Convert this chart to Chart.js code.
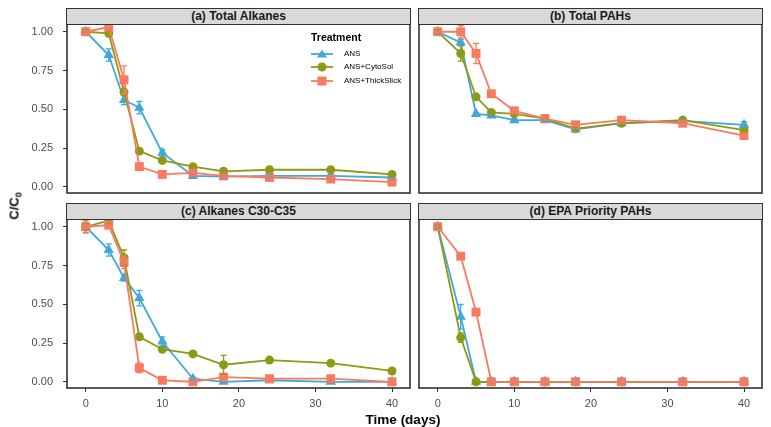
<!DOCTYPE html>
<html>
<head>
<meta charset="utf-8">
<script src="https://cdn.jsdelivr.net/npm/chart.js@4.4.1/dist/chart.umd.min.js"></script>
<style>
  body { margin: 0; background: #fff; }
  #wrap { position: relative; width: 771px; height: 427px; overflow: hidden; font-family: "Liberation Sans", Arial, sans-serif; }
  canvas { position: absolute; left: 0; top: 0; }
  .strip { position: absolute; height: 17px; background: #d9d9d9; border: 1.5px solid #333; box-sizing: border-box;
           font-weight: bold; font-size: 12px; line-height: 14px; text-align: center; color: #1a1a1a; }
  .ytitle { position: absolute; left: 15px; top: 206px; transform: translate(-50%, -50%) rotate(-90deg);
            font-weight: bold; font-size: 13px; color: #000; white-space: nowrap; }
  .ytitle sub { font-size: 9px; vertical-align: -3px; }
  .xtitle { position: absolute; left: 403px; top: 419px; transform: translate(-50%, -50%);
            font-weight: bold; font-size: 13.5px; color: #000; white-space: nowrap; }
  .legtitle { position: absolute; left: 311px; top: 31px; font-weight: bold; font-size: 10.5px; color: #000; }
  .legrow { position: absolute; left: 310px; height: 12px; font-size: 8px; color: #000; white-space: nowrap; }
  .legrow svg { position: absolute; left: 0; top: 0; }
  .legrow span { position: absolute; left: 34px; top: 1px; }
</style>
</head>
<body>
<div id="wrap">
  <canvas id="pa" width="771" height="427"></canvas>
  <canvas id="pb" width="771" height="427"></canvas>
  <canvas id="pc" width="771" height="427"></canvas>
  <canvas id="pd" width="771" height="427"></canvas>
  <div class="strip" style="left:66px;top:8px;width:345px;">(a) Total Alkanes</div>
  <div class="strip" style="left:418px;top:8px;width:345px;">(b) Total PAHs</div>
  <div class="strip" style="left:66px;top:203px;width:345px;">(c) Alkanes C30-C35</div>
  <div class="strip" style="left:418px;top:203px;width:345px;">(d) EPA Priority PAHs</div>
  <div class="ytitle">C/C<sub>0</sub></div>
  <div class="xtitle">Time (days)</div>
  <div class="legtitle">Treatment</div>
  <div id="legend"></div>
</div>
<script>
// sampling days
const days = [0, 3, 5, 7, 10, 14, 18, 24, 32, 40];
const treatments = ["ANS", "ANS+CytoSol", "ANS+ThickSlick"];
const colors = ["#41a9da", "#8c9a14", "#f97b5f"];

// (a) Total Alkanes
const alkAns      = [1.00, 0.85, 0.56, 0.51, 0.22, 0.07, 0.065, 0.07, 0.07, 0.06];
const alkCyto     = [1.00, 0.99, 0.61, 0.23, 0.17, 0.13, 0.10, 0.11, 0.11, 0.08];
const alkThick    = [1.00, 1.03, 0.69, 0.13, 0.08, 0.09, 0.07, 0.06, 0.05, 0.03];
const alkAnsErr   = [0.01, 0.04, 0.03, 0.04, 0.02, 0.01, 0.01, 0.01, 0.01, 0.01];
const alkCytoErr  = [0.01, 0.02, 0.02, 0.01, 0.01, 0.01, 0.01, 0.01, 0.01, 0.01];
const alkThickErr = [0.01, 0.02, 0.09, 0.02, 0.01, 0.01, 0.01, 0.01, 0.01, 0.01];

// (b) Total PAHs
const pahAns      = [1.00, 0.93, 0.47, 0.46, 0.43, 0.43, 0.37, 0.41, 0.425, 0.40];
const pahCyto     = [1.00, 0.86, 0.58, 0.48, 0.47, 0.44, 0.375, 0.41, 0.43, 0.365];
const pahThick    = [1.00, 1.00, 0.86, 0.60, 0.49, 0.44, 0.40, 0.43, 0.41, 0.33];
const pahAnsErr   = [0.02, 0.02, 0.01, 0.01, 0.01, 0.01, 0.01, 0.01, 0.01, 0.02];
const pahCytoErr  = [0.01, 0.05, 0.01, 0.01, 0.01, 0.01, 0.01, 0.01, 0.01, 0.01];
const pahThickErr = [0.02, 0.04, 0.065, 0.01, 0.01, 0.01, 0.01, 0.01, 0.01, 0.01];

// (c) Alkanes C30-C35
const c30Ans      = [1.00, 0.85, 0.67, 0.54, 0.26, 0.02, 0.00, 0.01, 0.00, 0.00];
const c30Cyto     = [1.00, 1.04, 0.80, 0.29, 0.21, 0.18, 0.11, 0.14, 0.12, 0.07];
const c30Thick    = [1.00, 1.01, 0.77, 0.09, 0.01, 0.00, 0.03, 0.02, 0.02, 0.00];
const c30AnsErr   = [0.04, 0.04, 0.02, 0.05, 0.03, 0.01, 0.00, 0.00, 0.00, 0.01];
const c30CytoErr  = [0.02, 0.02, 0.05, 0.02, 0.01, 0.01, 0.06, 0.01, 0.01, 0.01];
const c30ThickErr = [0.04, 0.02, 0.04, 0.03, 0.01, 0.00, 0.01, 0.01, 0.01, 0.01];

// (d) EPA Priority PAHs
const epaAns      = [1.00, 0.42, 0.00, 0.00, 0.00, 0.00, 0.00, 0.00, 0.00, 0.00];
const epaCyto     = [1.00, 0.285, 0.00, 0.00, 0.00, 0.00, 0.00, 0.00, 0.00, 0.00];
const epaThick    = [1.00, 0.81, 0.45, 0.00, 0.00, 0.00, 0.00, 0.00, 0.00, 0.00];
const epaAnsErr   = [0.01, 0.08, 0.00, 0.01, 0.01, 0.01, 0.01, 0.01, 0.01, 0.01];
const epaCytoErr  = [0.01, 0.03, 0.01, 0.00, 0.00, 0.00, 0.00, 0.00, 0.00, 0.00];
const epaThickErr = [0.02, 0.02, 0.02, 0.01, 0.01, 0.01, 0.01, 0.01, 0.01, 0.01];

const xTicks = [0, 10, 20, 30, 40];
const yTicks = [0, 0.25, 0.5, 0.75, 1];

const pointStyles = ["triangle", "circle", "rect"];
const pointRadii = [6, 4.5, 6.3];

const errorBars = {
  id: "errorBars",
  afterDatasetsDraw(chart) {
    const ctx = chart.ctx, xs = chart.scales.x, ys = chart.scales.y;
    chart.data.datasets.forEach((ds) => {
      ctx.save();
      ctx.strokeStyle = ds.borderColor;
      ctx.lineWidth = 1.3;
      ds.data.forEach((p, i) => {
        const e = ds.err[i];
        if (!e) return;
        const x = xs.getPixelForValue(p.x);
        const y1 = ys.getPixelForValue(p.y - e), y2 = ys.getPixelForValue(p.y + e);
        ctx.beginPath();
        ctx.moveTo(x, y1); ctx.lineTo(x, y2);
        ctx.moveTo(x - 3, y1); ctx.lineTo(x + 3, y1);
        ctx.moveTo(x - 3, y2); ctx.lineTo(x + 3, y2);
        ctx.stroke();
      });
      ctx.restore();
    });
  },
};

const panelBorder = {
  id: "panelBorder",
  afterDraw(chart) {
    const { ctx, chartArea: a } = chart;
    ctx.save();
    ctx.strokeStyle = "#333";
    ctx.lineWidth = 1.6;
    ctx.strokeRect(a.left, a.top, a.right - a.left, a.bottom - a.top);
    ctx.restore();
  },
};

function makePanel(id, series, errs, pad, showX, showY) {
  const datasets = series.map((vals, k) => ({
    label: treatments[k],
    data: days.map((d, i) => ({ x: d, y: vals[i] })),
    err: errs[k],
    borderColor: colors[k],
    backgroundColor: colors[k],
    borderWidth: 1.8,
    pointStyle: pointStyles[k],
    pointRadius: pointRadii[k],
    pointBorderWidth: 0,
    tension: 0,
    clip: false,
    order: 2 - k,
  }));

  new Chart(document.getElementById(id), {
    type: "line",
    data: { datasets },
    plugins: [errorBars, panelBorder],
    options: {
      responsive: false,
      animation: false,
      devicePixelRatio: 1,
      layout: { padding: pad },
      plugins: { legend: { display: false }, tooltip: { enabled: false } },
      scales: {
        x: {
          type: "linear",
          min: -2.45,
          max: 42.35,
          display: showX,
          afterBuildTicks: (s) => { s.ticks = xTicks.map((v) => ({ value: v })); },
          afterFit: (s) => { s.height = showX ? 22 : 0; },
          grid: { display: true, drawOnChartArea: false, drawTicks: true, tickLength: 4, color: "#333" },
          border: { display: false },
          ticks: { padding: 5, maxRotation: 0, color: "#4d4d4d", font: { family: "Liberation Sans", size: 11 } },
        },
        y: {
          type: "linear",
          min: -0.04,
          max: 1.05,
          display: showY,
          afterBuildTicks: (s) => { s.ticks = yTicks.map((v) => ({ value: v })); },
          afterFit: (s) => { s.width = showY ? 67 : 0; },
          grid: { display: true, drawOnChartArea: false, drawTicks: true, tickLength: 4, color: "#333" },
          border: { display: false },
          ticks: {
            padding: 10,
            color: "#4d4d4d",
            font: { family: "Liberation Sans", size: 11 },
            callback: (v) => v.toFixed(2),
          },
        },
      },
    },
  });
}

makePanel("pa", [alkAns, alkCyto, alkThick], [alkAnsErr, alkCytoErr, alkThickErr],
  { left: 0, top: 24, right: 361, bottom: 234 }, false, true);
makePanel("pb", [pahAns, pahCyto, pahThick], [pahAnsErr, pahCytoErr, pahThickErr],
  { left: 419, top: 24, right: 9, bottom: 234 }, false, false);
makePanel("pc", [c30Ans, c30Cyto, c30Thick], [c30AnsErr, c30CytoErr, c30ThickErr],
  { left: 0, top: 219, right: 361, bottom: 17 }, true, true);
makePanel("pd", [epaAns, epaCyto, epaThick], [epaAnsErr, epaCytoErr, epaThickErr],
  { left: 419, top: 219, right: 9, bottom: 17 }, true, false);

// legend inside panel (a)
const legendTops = [48, 61, 75];
const symbols = [
  (c) => `<polygon points="12,1.5 17,9.5 7,9.5" fill="${c}"/>`,
  (c) => `<circle cx="12" cy="6" r="4.5" fill="${c}"/>`,
  (c) => `<rect x="7.5" y="1.5" width="9" height="9" fill="${c}"/>`,
];
const legend = document.getElementById("legend");
treatments.forEach((t, k) => {
  const row = document.createElement("div");
  row.className = "legrow";
  row.style.top = legendTops[k] + "px";
  row.innerHTML =
    `<svg width="26" height="12"><line x1="1" y1="6" x2="23" y2="6" stroke="${colors[k]}" stroke-width="1.8"/>` +
    symbols[k](colors[k]) + `</svg><span>${t}</span>`;
  legend.appendChild(row);
});
</script>
</body>
</html>
